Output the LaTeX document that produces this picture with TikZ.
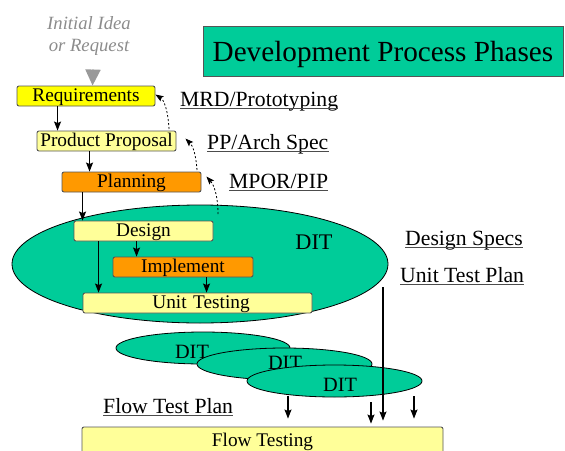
\documentclass[tikz,border=0pt]{standalone}
\usepackage{fontspec}
\setmainfont{LiberationSerif}[Extension=.ttf, UprightFont=*-Regular, ItalicFont=*-Italic, BoldFont=*-Bold]
\usetikzlibrary{arrows.meta,shapes.geometric}
\definecolor{dgreen}{HTML}{00CC99}
\definecolor{lyel}{HTML}{FFFF99}
\definecolor{yel}{HTML}{FFFF00}
\definecolor{orng}{HTML}{FF9900}
\definecolor{bordergray}{HTML}{555555}
\begin{document}
\begin{tikzpicture}[x=1pt,y=-1pt,
  box/.style={draw=bordergray, line width=0.9pt, rounded corners=2pt, minimum height=20pt,
    inner sep=0pt, text height=14pt, text depth=3pt, font=\fontsize{19.3}{22}\selectfont},
  arr/.style={line width=1.1pt, -{Stealth[length=9pt,width=7pt,inset=1.5pt]}},
  dasharr/.style={line width=0.8pt, dash pattern=on 2pt off 2pt, -{Stealth[length=8pt,width=6pt,inset=1.5pt]}},
  lab/.style={inner sep=0pt, anchor=base west, font=\fontsize{21.7}{24}\selectfont},
  ul/.style={line width=1.3pt, black!70},
  blob/.style={ellipse, draw=black, line width=0.8pt, fill=dgreen, inner sep=0pt},
  dbig/.style={inner sep=0pt, font=\fontsize{22.3}{24}\selectfont},
  dsmall/.style={inner sep=0pt, font=\fontsize{20.3}{22}\selectfont},
  ]
\useasboundingbox (0,0) rectangle (565,450);
\fill[white] (0,0) rectangle (565,450);

% title
\node[draw=bordergray, fill=dgreen, line width=1pt, minimum width=360pt, minimum height=50pt,
  inner sep=0pt, text height=21pt, text depth=1pt, font=\fontsize{29.2}{32}\selectfont] (title) at (383,51) {Development Process Phases};

% initial idea
\node[font=\itshape\fontsize{18.7}{22}\selectfont, text=black!45, align=center, inner sep=0pt] (idea) at (89,36) {Initial Idea\\or Request};

% phase boxes
\node[box, fill=yel, minimum width=138pt] (req) at (86,96) {Requirements};
\node[box, fill=lyel, minimum width=139pt] (pp) at (106.5,141) {Product Proposal};
\node[box, fill=orng, minimum width=139pt] (plan) at (131.5,182) {Planning};

\node[blob, minimum width=376pt, minimum height=118pt] (dit) at (200,264) {};
\node[dbig] (ditl) at (314,242) {DIT};

\node[box, fill=lyel, minimum width=139pt] (des) at (143.5,231) {Design};
\node[box, fill=orng, minimum width=140pt] (imp) at (183,267) {Implement};
\node[box, fill=lyel, minimum width=229pt, text width=221pt, align=center] (ut) at (197.5,303) {\hspace*{7pt}Unit Testing};

% lower DIT ellipses
\node[blob, minimum width=174pt, minimum height=32pt] (e1) at (203,348) {};
\node[dsmall] (e1l) at (192,352) {DIT};
\node[blob, minimum width=175pt, minimum height=32pt] (e2) at (284.5,364) {};
\node[dsmall] (e2l) at (285,362.5) {DIT};
\node[blob, minimum width=175pt, minimum height=32pt] (e3) at (334.5,381) {};
\node[dsmall] (e3l) at (340,384.5) {DIT};

\node[box, fill=lyel, minimum width=361pt, minimum height=28pt] (flow) at (262.5,441) {Flow Testing};

% labels
\node[lab] (mrd) at (180,106) {MRD/Prototyping};
\node[lab] (ppa) at (207,149) {PP/Arch Spec};
\node[lab] (mpor) at (229,188) {MPOR/PIP};
\node[lab] (dspec) at (405,245) {Design Specs};
\node[lab] (utp) at (400,282) {Unit Test Plan};
\node[lab] (ftp) at (103,413) {Flow Test Plan};
\foreach \n in {mrd,ppa,mpor,dspec,utp,ftp}
  \draw[ul] ([yshift=-2.5pt]\n.base west) -- ([yshift=-2.5pt]\n.base east);

% gray arrow
\draw[draw=black!40, fill=black!40, line width=2pt, -{Triangle[length=16pt,width=15pt]}] ([xshift=4pt,yshift=-14pt]idea.south) -- ([xshift=76pt]req.north west);

% solid arrows
\draw[arr] ([xshift=41pt]req.south west) -- ([xshift=21pt]pp.north west);
\draw[arr] ([xshift=53pt]pp.south west) -- ([xshift=28pt]plan.north west);
\draw[arr] ([xshift=21pt]plan.south west) -- ([xshift=9pt]des.north west);
\draw[arr] ([xshift=25pt]des.south west) -- ([xshift=16pt]ut.north west);
\draw[arr] ([xshift=63pt]des.south west) -- ([xshift=24pt]imp.north west);
\draw[arr] ([xshift=94pt]imp.south west) -- ([xshift=124pt]ut.north west);

% dashed feedback arrows
\coordinate (d1) at (218,214);
\coordinate (d2) at (197,170);
\coordinate (d3) at (169,129);
\draw[dasharr] (d1) .. controls (218,196) and (214,185) .. ([xshift=5pt,yshift=-5pt]plan.north east);
\draw[dasharr] (d2) .. controls (196,155) and (193,146) .. ([xshift=9pt,yshift=-8pt]pp.north east);
\draw[dasharr] (d3) .. controls (168,110) and (164,100) .. ([yshift=-9pt]req.north east);

% arrows to flow testing
\coordinate (v1) at (383,287);
\coordinate (a1) at (288,396);
\coordinate (a2) at (371,402);
\coordinate (a3) at (414,396);
\draw[arr, shorten >=6pt] (v1) -- (v1 |- flow.north);
\draw[arr, shorten >=8pt] (a1) -- (a1 |- flow.north);
\draw[arr, shorten >=3pt] (a2) -- (a2 |- flow.north);
\draw[arr, shorten >=8pt] (a3) -- (a3 |- flow.north);
\end{tikzpicture}
\end{document}
